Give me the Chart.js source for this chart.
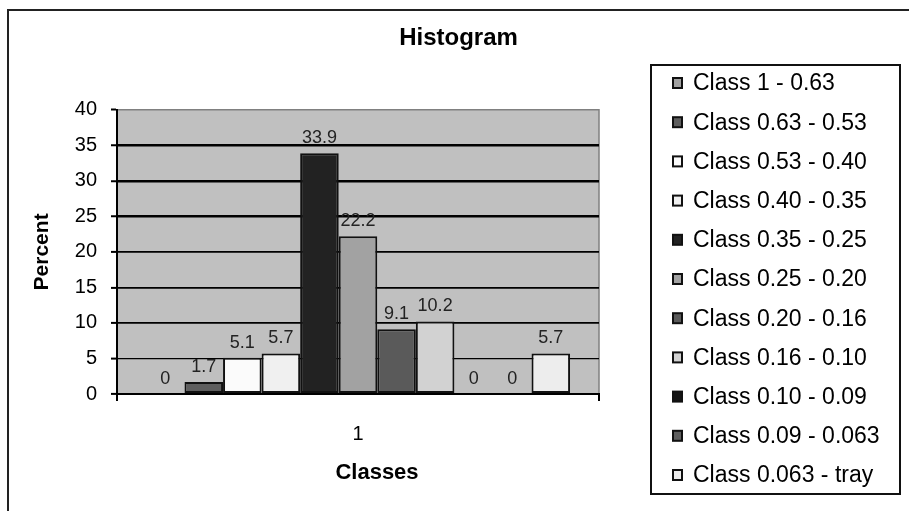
<!DOCTYPE html>
<html>
<head>
<meta charset="utf-8">
<title>Histogram</title>
<script src="https://cdn.jsdelivr.net/npm/chart.js@4.4.0/dist/chart.umd.min.js"></script>
<style>
  html, body { margin: 0; padding: 0; background: #fff; }
  canvas { display: block; }
</style>
</head>
<body>
<canvas id="histChart" width="909" height="511"></canvas>
<script>
// data
const categories = ["1"];
const classLabels = [
  "Class 1 - 0.63",
  "Class 0.63 - 0.53",
  "Class 0.53 - 0.40",
  "Class 0.40 - 0.35",
  "Class 0.35 - 0.25",
  "Class 0.25 - 0.20",
  "Class 0.20 - 0.16",
  "Class 0.16 - 0.10",
  "Class 0.10 - 0.09",
  "Class 0.09 - 0.063",
  "Class 0.063 - tray",
];
const percentValues = [0, 1.7, 5.1, 5.7, 33.9, 22.2, 9.1, 10.2, 0, 0, 5.7];
const yMin = 0;
const yMax = 40;
const yStep = 5;

// greys of the bars, same order as the classes
const barColors = [
  "#a2a2a2", "#5e5e5e", "#fbfbfb", "#f0f0f0", "#222222", "#a2a2a2",
  "#5a5a5a", "#d2d2d2", "#141414", "#5e5e5e", "#ededed",
];

const FONT = "'Liberation Sans', Arial, sans-serif";

// grey plot background with a thin grey frame on top and right
const plotBackground = {
  id: "plotBackground",
  beforeDraw(chart) {
    const { ctx, chartArea: a } = chart;
    ctx.save();
    ctx.fillStyle = "#c0c0c0";
    ctx.fillRect(a.left, a.top, a.right - a.left, a.bottom - a.top);
    ctx.strokeStyle = "#808080";
    ctx.lineWidth = 1.5;
    ctx.beginPath();
    ctx.moveTo(a.left, a.top);
    ctx.lineTo(a.right, a.top);
    ctx.lineTo(a.right, a.bottom);
    ctx.stroke();
    ctx.restore();
  },
};

// value above each bar
const barValues = {
  id: "barValues",
  afterDatasetsDraw(chart) {
    const ctx = chart.ctx;
    ctx.save();
    ctx.font = "18px " + FONT;
    ctx.fillStyle = "#222";
    ctx.textAlign = "center";
    ctx.textBaseline = "middle";
    chart.data.datasets.forEach((ds, i) => {
      chart.getDatasetMeta(i).data.forEach((bar, j) => {
        ctx.fillText(String(ds.data[j]), bar.x, bar.y - 15);
      });
    });
    ctx.restore();
  },
};

// outer frame, boxed legend and the x axis title
const frameAndLegend = {
  id: "frameAndLegend",
  afterDraw(chart) {
    const { ctx, chartArea: a } = chart;
    ctx.save();

    ctx.strokeStyle = "#222";
    ctx.lineWidth = 2;
    ctx.strokeRect(8, 10, chart.width + 10, chart.height + 10);

    // x axis title sits a bit right of the plot centre in the original
    ctx.fillStyle = "#000";
    ctx.font = "bold 22px " + FONT;
    ctx.textAlign = "center";
    ctx.textBaseline = "middle";
    ctx.fillText("Classes", (a.left + a.right) / 2 + 19, 473);

    // legend box
    const boxLeft = 651, boxTop = 65, boxRight = 900, boxBottom = 494;
    ctx.fillStyle = "#fff";
    ctx.fillRect(boxLeft, boxTop, boxRight - boxLeft, boxBottom - boxTop);
    ctx.strokeStyle = "#111";
    ctx.lineWidth = 2;
    ctx.strokeRect(boxLeft, boxTop, boxRight - boxLeft, boxBottom - boxTop);

    ctx.font = "23px " + FONT;
    ctx.textAlign = "left";
    chart.data.datasets.forEach((ds, i) => {
      const y = 83 + i * 39.2;
      ctx.fillStyle = ds.backgroundColor;
      ctx.fillRect(673, y - 5, 9, 10);
      ctx.strokeStyle = "#111";
      ctx.lineWidth = 2;
      ctx.strokeRect(673, y - 5, 9, 10);
      ctx.fillStyle = "#000";
      ctx.fillText(ds.label, 693, y + 1);
    });
    ctx.restore();
  },
};

const datasets = classLabels.map((label, i) => ({
  label: label,
  data: [percentValues[i]],
  backgroundColor: barColors[i],
  borderColor: "#111",
  borderWidth: 2,
  borderSkipped: false,
  categoryPercentage: 0.88,
  barPercentage: 1.0,
}));

const ctx = document.getElementById("histChart").getContext("2d");
const histChart = new Chart(ctx, {
  type: "bar",
  data: { labels: categories, datasets: datasets },
  plugins: [plotBackground, barValues, frameAndLegend],
  options: {
    responsive: false,
    animation: false,
    devicePixelRatio: 1,
    layout: { padding: { left: 8, top: 10, right: 0, bottom: 0 } },
    plugins: {
      legend: { display: false },
      tooltip: { enabled: false },
      title: {
        display: true,
        text: "Histogram",
        color: "#000",
        font: { family: FONT, size: 24, weight: "bold" },
        padding: { top: 14, bottom: 57 },
      },
    },
    scales: {
      x: {
        offset: true,
        grid: {
          display: true,
          drawOnChartArea: false,
          drawTicks: true,
          tickLength: 7,
          color: "#000",
          lineWidth: 2,
        },
        border: { display: true, color: "#000", width: 2 },
        ticks: { color: "#000", font: { family: FONT, size: 20 }, padding: 21 },
        afterFit(scale) {
          scale.height = 117;
        },
      },
      y: {
        min: yMin,
        max: yMax,
        ticks: {
          stepSize: yStep,
          color: "#000",
          font: { family: FONT, size: 20 },
          padding: 14,
        },
        grid: {
          color: (c) => (c.tick && c.tick.value === yMax ? "#808080" : "#000"),
          lineWidth: (c) => {
            const v = c.tick ? c.tick.value : 0;
            if (v === yMax) return 1;
            if (v >= 25) return 2.5;
            if (v === 5) return 1.2;
            return 1.8;
          },
          tickLength: 6,
          tickColor: "#000",
          tickWidth: 2,
        },
        border: { display: true, color: "#000", width: 2 },
        title: {
          display: true,
          text: "Percent",
          color: "#000",
          font: { family: FONT, size: 21, weight: "bold" },
          padding: { top: 22, bottom: 0 },
        },
        afterFit(scale) {
          scale.width = 109;
        },
      },
      // empty axis that only keeps room on the right for the legend box
      spacer: {
        type: "linear",
        position: "right",
        grid: { display: false },
        border: { display: false },
        ticks: { display: false },
        afterFit(scale) {
          scale.width = 310;
        },
      },
    },
  },
});
</script>
</body>
</html>
